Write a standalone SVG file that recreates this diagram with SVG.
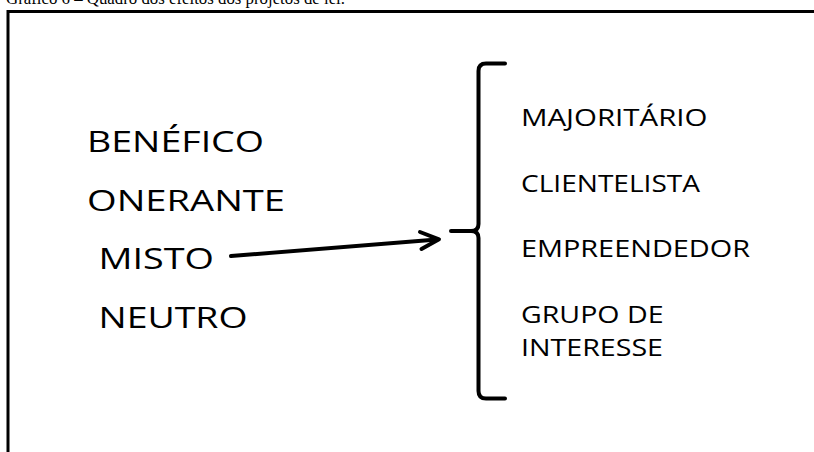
<svg xmlns="http://www.w3.org/2000/svg" width="814" height="452" viewBox="0 0 814 452">
<style>
.t{font-family:"Open Sans","DejaVu Sans",sans-serif;fill:#000}
.big{font-size:29px}
.sm{font-size:24px}
.ln{stroke:#000;fill:none;stroke-linecap:round;stroke-linejoin:round}
</style>
<rect width="814" height="452" fill="#fff"/>
<text x="6" y="4" font-family="Liberation Serif,serif" font-size="17" textLength="339" lengthAdjust="spacingAndGlyphs">Gráfico 6 – Quadro dos efeitos dos projetos de lei.</text>
<g id="frame">
<path d="M8 452 V11.5 H814" stroke="#000" stroke-width="3" fill="none"/>
</g>
<g id="benefico"><text class="t big" x="87" y="151.5" textLength="177" lengthAdjust="spacingAndGlyphs">BENÉFICO</text></g>
<g id="onerante"><text class="t big" x="87" y="210.5" textLength="198" lengthAdjust="spacingAndGlyphs">ONERANTE</text></g>
<g id="misto"><text class="t big" x="98.5" y="269" textLength="115.5" lengthAdjust="spacingAndGlyphs">MISTO</text></g>
<g id="neutro"><text class="t big" x="98.5" y="328" textLength="149" lengthAdjust="spacingAndGlyphs">NEUTRO</text></g>
<g id="bracket">
<path class="ln" stroke-width="4" d="M505 63.5 H486 Q478.5 63.5 478.5 71 V224 Q478.5 231 471 231 H451 M471 231 Q478.5 231 478.5 238 V391 Q478.5 398.5 486 398.5 H505"/>
</g>
<g id="majoritario"><text class="t sm" x="521" y="126" textLength="186.5" lengthAdjust="spacingAndGlyphs">MAJORITÁRIO</text></g>
<g id="clientelista"><text class="t sm" x="521" y="191.7" textLength="179" lengthAdjust="spacingAndGlyphs">CLIENTELISTA</text></g>
<g id="empreendedor"><text class="t sm" x="521" y="256.7" textLength="229" lengthAdjust="spacingAndGlyphs">EMPREENDEDOR</text></g>
<g id="grupo"><text class="t sm" x="521" y="323" textLength="142.5" lengthAdjust="spacingAndGlyphs">GRUPO DE</text><text class="t sm" x="521" y="355.7" textLength="142" lengthAdjust="spacingAndGlyphs">INTERESSE</text></g>
<g id="connectors">
<path class="ln" stroke-width="4" d="M231 256 L437 239.5"/>
<path class="ln" stroke-width="4" d="M420 232 L439 239.3 L421.5 249"/>
</g>
</svg>
